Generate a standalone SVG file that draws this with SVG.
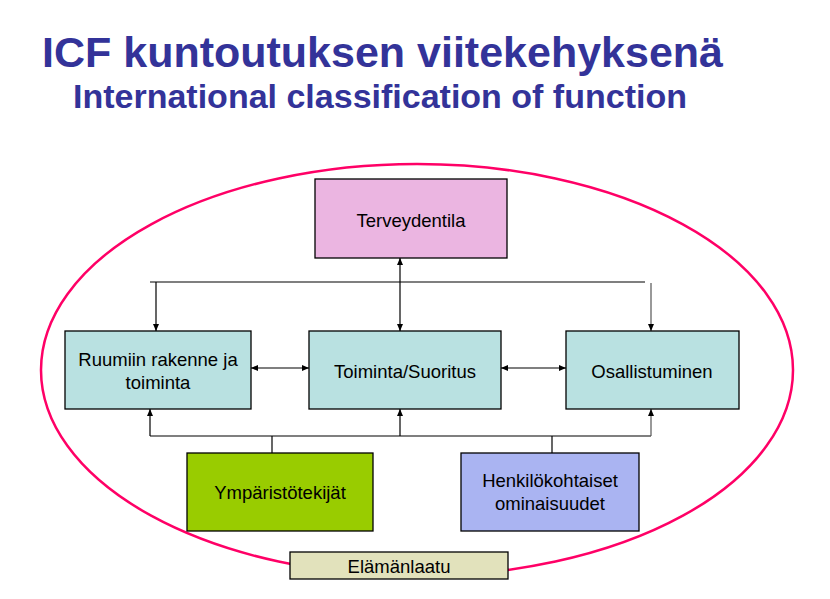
<svg xmlns="http://www.w3.org/2000/svg" width="830" height="599" viewBox="0 0 830 599">
<style>
.title{font-family:"Liberation Sans",Arial,sans-serif;font-weight:bold;fill:#333399}
.box{stroke:#000;stroke-width:1.3}
.lbl{font-family:"Liberation Sans",Arial,sans-serif;font-size:18.5px;fill:#000;text-anchor:middle}
.ln{stroke:#000;stroke-width:1.2;fill:none}
.lg{stroke:#555;stroke-width:1.2;fill:none}
</style>
<defs>
<marker id="ah" markerUnits="userSpaceOnUse" markerWidth="7" markerHeight="6" refX="7" refY="3" orient="auto-start-reverse">
<path d="M0,0 L7,3 L0,6 z" fill="#000"/>
</marker>
</defs>
<rect width="830" height="599" fill="#fff"/>
<text class="title" x="42" y="66.5" font-size="43">ICF kuntoutuksen viitekehyksenä</text>
<text class="title" x="73" y="108" font-size="34">International classification of function</text>
<ellipse id="ellipse" cx="417" cy="370" rx="376" ry="206" fill="none" stroke="#FF0066" stroke-width="2.5"/>
<g id="connectors">
<path class="ln" d="M150,282 H645"/>
<path class="ln" d="M156,282 V331" marker-end="url(#ah)"/>
<path class="ln" d="M400,258 V331" marker-start="url(#ah)" marker-end="url(#ah)"/>
<path class="lg" d="M651,283 V331" marker-end="url(#ah)"/>
<path class="ln" d="M251,368 H309" marker-start="url(#ah)" marker-end="url(#ah)"/>
<path class="ln" d="M501,368 H566" marker-start="url(#ah)" marker-end="url(#ah)"/>
<path class="ln" d="M150,436 H651"/>
<path class="ln" d="M150,436 V409" marker-end="url(#ah)"/>
<path class="ln" d="M400,436 V409" marker-end="url(#ah)"/>
<path class="lg" d="M651,436 V409" marker-end="url(#ah)"/>
<path class="ln" d="M272,436 V453"/>
<path class="ln" d="M552,436 V453"/>
</g>
<g id="terveydentila">
<rect class="box" x="315" y="179" width="192" height="79" fill="#EBB5E1"/>
<text class="lbl" x="411" y="227">Terveydentila</text>
</g>
<g id="ruumiin">
<rect class="box" x="65" y="331" width="186" height="78" fill="#B9E1E1"/>
<text class="lbl" x="158" y="366">Ruumiin rakenne ja</text>
<text class="lbl" x="158" y="389">toiminta</text>
</g>
<g id="toiminta">
<rect class="box" x="309" y="331" width="192" height="78" fill="#B9E1E1"/>
<text class="lbl" x="405" y="378">Toiminta/Suoritus</text>
</g>
<g id="osallistuminen">
<rect class="box" x="566" y="331" width="173" height="78" fill="#B9E1E1"/>
<text class="lbl" x="652" y="378">Osallistuminen</text>
</g>
<g id="ymparisto">
<rect class="box" x="187" y="453" width="186" height="78" fill="#99CC00"/>
<text class="lbl" x="280" y="499">Ympäristötekijät</text>
</g>
<g id="henkilo">
<rect class="box" x="461" y="453" width="178" height="78" fill="#AAB4F2"/>
<text class="lbl" x="550" y="487">Henkilökohtaiset</text>
<text class="lbl" x="550" y="510">ominaisuudet</text>
</g>
<g id="elamanlaatu">
<rect class="box" x="290" y="552" width="218" height="27" fill="#E2E2BC"/>
<text class="lbl" x="399" y="573">Elämänlaatu</text>
</g>
</svg>
